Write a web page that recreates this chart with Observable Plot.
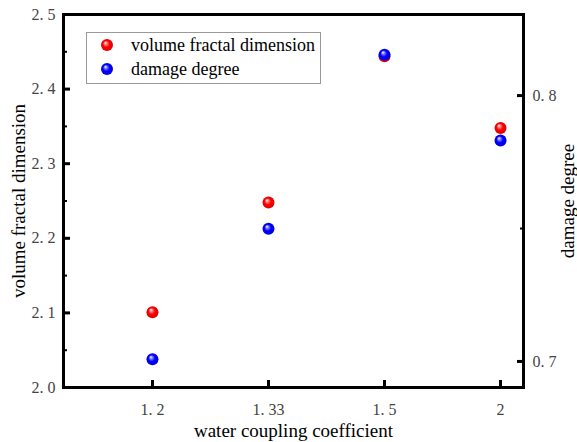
<!DOCTYPE html>
<html><head><meta charset="utf-8">
<script src="https://cdn.jsdelivr.net/npm/d3@7"></script>
<script src="https://cdn.jsdelivr.net/npm/@observablehq/plot@0.6"></script>
<style>body{margin:0;background:#fff}#chart{width:577px;height:442px}</style>
</head><body><div id="chart"></div>
<script>
const categories = ["1.2", "1.33", "1.5", "2"];
const fractalDimension = [2.101, 2.248, 2.444, 2.348];
const damageDegree = [0.7008, 0.7499, 0.8154, 0.7831];
const seriesNames = ["volume fractal dimension", "damage degree"];
const leftTicks = [2.0, 2.1, 2.2, 2.3, 2.4, 2.5];
const leftMinorTicks = [2.05, 2.15, 2.25, 2.35, 2.45];
const rightTicks = [0.7, 0.8];
const rightMinorTicks = [0.75];
const xTitle = "water coupling coefficient";
const yTitle = "volume fractal dimension";
const y2Title = "damage degree";

const leftDomain = [2.0, 2.5];
const rightDomain = [0.6902, 0.8305];
const toLeft = d3.scaleLinear().domain(rightDomain).range(leftDomain);
const xIndex = categories.map((c, i) => i + 1);

const fractalData = categories.map((c, i) => ({x: i + 1, y: fractalDimension[i]}));
const damageData = categories.map((c, i) => ({x: i + 1, y: toLeft(damageDegree[i])}));

const cjkFmt = s => String(s).replace(".", ". ");
const font = "'Liberation Serif', 'Times New Roman', serif";
const tickColor = "#444";

const svg = Plot.plot({
  width: 577, height: 442,
  marginLeft: 63, marginRight: 54, marginTop: 14, marginBottom: 55,
  style: {fontFamily: font, background: "white"},
  x: {type: "linear", domain: [0.233, 4.198], axis: null},
  y: {domain: leftDomain, axis: null},
  marks: [
    // left axis
    Plot.axisY({ticks: leftTicks, tickSize: 7, dx: 7, strokeWidth: 3, text: null, label: null}),
    Plot.axisY({ticks: leftMinorTicks, tickSize: 4, dx: 4, strokeWidth: 2, text: null, label: null}),
    Plot.axisY({ticks: leftTicks, tickSize: 0, tickPadding: 8, fontSize: 16, color: tickColor,
      tickFormat: d => cjkFmt(d3.format(".1f")(d)), label: null}),
    // right axis
    Plot.axisY(rightTicks.map(toLeft), {anchor: "right", tickSize: 7, dx: -7, strokeWidth: 3, text: null, label: null}),
    Plot.axisY(rightMinorTicks.map(toLeft), {anchor: "right", tickSize: 4, dx: -4, strokeWidth: 2, text: null, label: null}),
    Plot.axisY(rightTicks.map(toLeft), {anchor: "right", tickSize: 0, tickPadding: 9, fontSize: 16, color: tickColor,
      tickFormat: d => cjkFmt(d3.format(".1f")(toLeft.invert(d))), label: null}),
    // bottom axis
    Plot.axisX(xIndex, {tickSize: 7, dy: -7, strokeWidth: 3, text: null, label: null}),
    Plot.axisX(xIndex, {tickSize: 0, tickPadding: 16, fontSize: 16, color: tickColor,
      tickFormat: d => cjkFmt(categories[Math.round(d) - 1]), label: null}),
    Plot.frame({stroke: "black", strokeWidth: 3}),
    // titles
    Plot.text([yTitle], {frameAnchor: "left", dx: -45, rotate: -90, textAnchor: "middle", lineAnchor: "middle", fontSize: 19, fill: "black"}),
    Plot.text([y2Title], {frameAnchor: "right", dx: 44, rotate: -90, textAnchor: "middle", lineAnchor: "middle", fontSize: 19, fill: "black"}),
    Plot.text([xTitle], {frameAnchor: "bottom", dy: 43, textAnchor: "middle", lineAnchor: "middle", fontSize: 19, fill: "black"}),
    // data
    Plot.dot(fractalData, {x: "x", y: "y", r: 6, fill: "url(#ballRed)", stroke: "none"}),
    Plot.dot(damageData, {x: "x", y: "y", r: 6, fill: "url(#ballBlue)", stroke: "none"})
  ]
});

const s = d3.select(svg);
const defs = s.insert("defs", ":first-child");
function ball(id, light, mid, dark) {
  const g = defs.append("radialGradient").attr("id", id)
    .attr("cx", 0.5).attr("cy", 0.5).attr("r", 0.5).attr("fx", 0.36).attr("fy", 0.3);
  g.append("stop").attr("offset", "0%").attr("stop-color", "#ffffff");
  g.append("stop").attr("offset", "22%").attr("stop-color", light);
  g.append("stop").attr("offset", "55%").attr("stop-color", mid);
  g.append("stop").attr("offset", "100%").attr("stop-color", dark);
}
ball("ballRed", "#ff8a8a", "#ff0000", "#e00000");
ball("ballBlue", "#8a8aff", "#0000ff", "#0000dd");

// legend
const lg = s.append("g").attr("font-family", font).attr("text-anchor", "start");
lg.append("rect").attr("x", 86.5).attr("y", 32.5).attr("width", 234).attr("height", 51)
  .attr("fill", "white").attr("stroke", "#999").attr("stroke-width", 1);
const fills = ["url(#ballRed)", "url(#ballBlue)"];
seriesNames.forEach((name, i) => {
  const cy = 45 + i * 24;
  lg.append("circle").attr("cx", 107).attr("cy", cy).attr("r", 6).attr("fill", fills[i]);
  lg.append("text").attr("x", 131).attr("y", cy).attr("dy", "0.35em")
    .attr("text-anchor", "start").attr("font-size", 18).attr("fill", "black").text(name);
});

document.getElementById("chart").appendChild(svg);
</script></body></html>
